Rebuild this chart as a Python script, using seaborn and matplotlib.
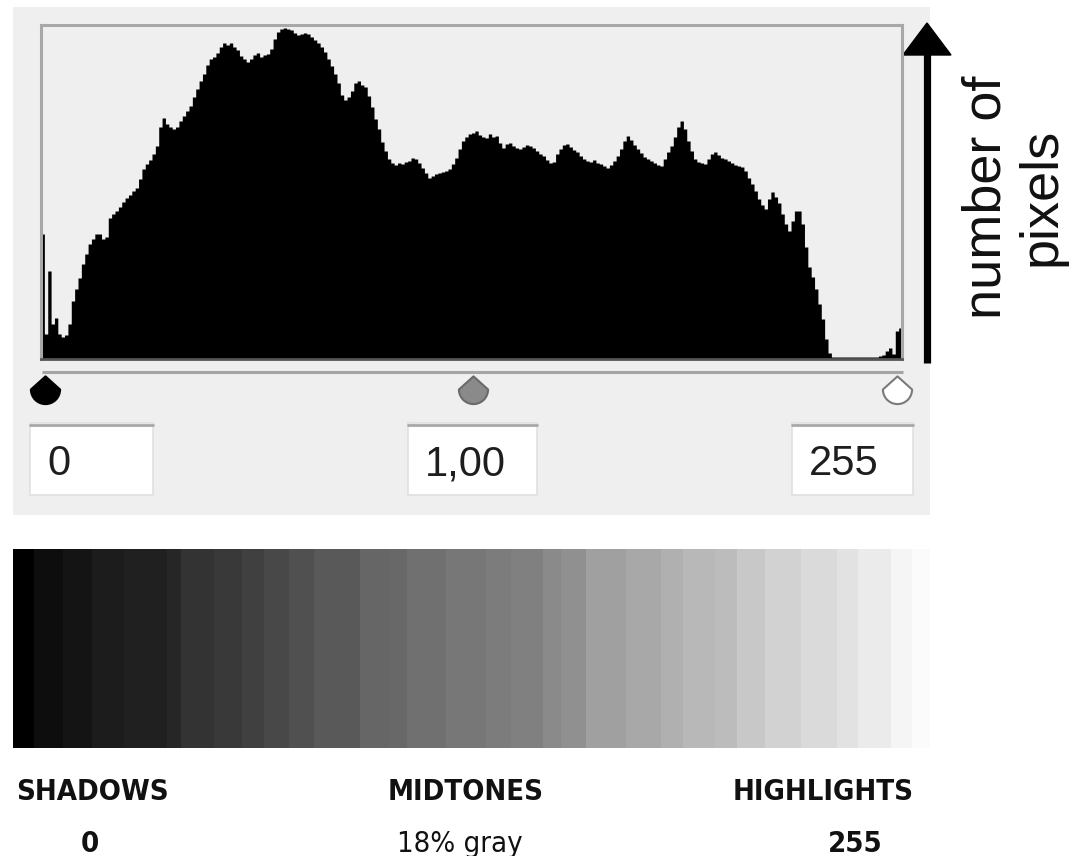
import numpy as np
import matplotlib
matplotlib.use("Agg")
import matplotlib.pyplot as plt
from matplotlib.patches import Rectangle, Polygon
from matplotlib.path import Path
from matplotlib import font_manager as fm
import seaborn as sns

# --- data ------------------------------------------------------------------
# pixel count per tonal level 0..255 (arbitrary units)
counts = [
    125, 25, 88, 35, 41, 25, 22, 24, 35, 58, 70, 81, 95, 105, 115, 120,
    125, 125, 120, 122, 141, 145, 148, 152, 157, 161, 164, 168, 171, 180, 190, 195,
    199, 205, 213, 232, 241, 235, 232, 230, 232, 238, 243, 248, 253, 262, 270, 278,
    285, 294, 300, 302, 306, 312, 316, 314, 316, 312, 309, 303, 300, 297, 300, 304,
    306, 302, 304, 305, 310, 320, 327, 330, 331, 330, 329, 326, 324, 325, 326, 325,
    322, 319, 316, 312, 307, 300, 293, 285, 276, 264, 259, 262, 268, 276, 278, 274,
    272, 263, 252, 240, 230, 217, 208, 200, 196, 194, 196, 195, 197, 198, 201, 200,
    196, 191, 186, 181, 183, 185, 186, 187, 188, 190, 195, 201, 210, 218, 222, 225,
    226, 228, 224, 222, 221, 225, 222, 223, 216, 211, 215, 216, 213, 211, 210, 212,
    214, 213, 211, 208, 205, 203, 199, 196, 197, 205, 210, 214, 215, 212, 209, 207,
    203, 200, 198, 197, 199, 196, 195, 193, 191, 194, 198, 203, 210, 218, 223, 219,
    214, 210, 206, 202, 200, 198, 196, 194, 193, 200, 207, 213, 222, 232, 238, 230,
    218, 208, 200, 197, 196, 195, 200, 205, 207, 204, 201, 200, 198, 196, 194, 193,
    192, 188, 181, 175, 168, 160, 154, 150, 160, 167, 162, 156, 145, 135, 128, 138,
    148, 148, 135, 112, 92, 82, 70, 55, 40, 20, 6, 2, 2, 2, 2, 2,
    2, 2, 2, 2, 2, 2, 2, 2, 2, 3, 4, 8, 11, 5, 28, 31,
]
levels = list(range(256))

# slider points: black point, midtone, white point
slider_values = [0, 128, 255]
slider_fill = ["black", "#8a8a8a", "white"]
slider_edge = ["black", "#6a6a6a", "#7a7a7a"]
box_texts = ["0", "1,00", "255"]

# stepped tonal ramp under the histogram: band start (tone) and gray value
band_starts = [0, 6, 14, 22, 31, 43, 47, 56, 64, 70, 77, 84, 97, 105, 110, 121,
               132, 139, 148, 153, 160, 171, 181, 187, 196, 202, 210, 220, 230, 236, 245, 251]
band_grays = [0, 13, 20, 28, 32, 38, 51, 57, 64, 72, 80, 89, 102, 104, 112, 119,
              124, 128, 138, 144, 160, 168, 176, 184, 188, 200, 210, 218, 226, 235, 245, 251]

zone_names = ["SHADOWS", "MIDTONES", "HIGHLIGHTS"]
zone_values = ["0", "18% gray", "255"]
axis_label = "number of\npixels"

# --- layout helpers -------------------------------------------------------
W, H = 1075, 856


def rect(x0, y0, x1, y1):
    return [x0 / W, 1 - y1 / H, (x1 - x0) / W, (y1 - y0) / H]


def pick_font(names):
    for n in names:
        try:
            fm.findfont(fm.FontProperties(family=n), fallback_to_default=False)
            return n
        except ValueError:
            pass
    return "DejaVu Sans"


sns.set_style("white")
narrow = pick_font(["Liberation Sans Narrow", "DejaVu Sans"])
plain = pick_font(["Liberation Sans", "DejaVu Sans"])

fig = plt.figure(figsize=(W / 100, H / 100), dpi=100)
fig.patch.set_facecolor("white")

# background layer in pixel coordinates
bg = fig.add_axes([0, 0, 1, 1], zorder=0)
bg.set_xlim(0, W)
bg.set_ylim(H, 0)
bg.axis("off")
bg.add_patch(Rectangle((13, 7), 917, 508, facecolor="#efefef", lw=0))

# input boxes
box_x = [(30, 153), (408, 537), (792, 913)]
for (x0, x1), t in zip(box_x, box_texts):
    bg.add_patch(Rectangle((x0, 423), x1 - x0, 72, facecolor="white", edgecolor="#e0e0e0", lw=1.2))
    bg.plot([x0, x1], [424.5, 424.5], color="#a8a8a8", lw=2)
    bg.text(x0 + 17, 475, t, fontsize=30, family=plain, color="#1e1e1e", ha="left", va="baseline")

# slider track
bg.plot([42, 903], [372, 372], color="#a5a5a5", lw=2.2, solid_capstyle="butt")

# vertical arrow + label
bg.plot([927, 927], [363, 50], color="black", lw=5.2, solid_capstyle="butt")
bg.add_patch(Polygon([(903, 55), (951, 55), (927, 23)], closed=True, color="black"))
bg.text(1014, 197, axis_label, rotation=90, ha="center", va="center", multialignment="center",
        fontsize=39, family=plain, color="#111111", linespacing=1.15)

# histogram
ax = fig.add_axes(rect(41, 25, 902, 359), zorder=2)
sns.histplot(x=levels, weights=counts, bins=256, binrange=(0, 256), element="step",
             fill=True, color="black", alpha=1, linewidth=0, ax=ax)
ax.set_xlim(0, 256)
ax.set_ylim(0, 334)
ax.set_facecolor("#efefef")
ax.set_xticks([])
ax.set_yticks([])
ax.set_xlabel("")
ax.set_ylabel("")
for side in ["top", "left", "right"]:
    ax.spines[side].set_color("#a8a8a8")
    ax.spines[side].set_linewidth(2.2)
ax.spines["bottom"].set_color("#555555")
ax.spines["bottom"].set_linewidth(2)

# slider handles
drop_arc = Path.arc(180, 360)
drop = Path(np.vstack([[0, 0.9], drop_arc.vertices, [0, 0.9]]),
            [Path.MOVETO, Path.LINETO] + list(drop_arc.codes[1:]) + [Path.CLOSEPOLY])
sl = fig.add_axes(rect(45, 369, 897, 409), zorder=3)
sl.set_xlim(0, 255)
sl.set_ylim(0, 1)
sl.axis("off")
for v, fc, ec in zip(slider_values, slider_fill, slider_edge):
    sl.plot([v], [0.5], marker=drop, ms=21, mfc=fc, mec=ec, mew=1.5, clip_on=False)

# tonal ramp
gr = fig.add_axes(rect(13, 549, 930, 748), zorder=1)
gr.pcolormesh(band_starts + [256], [0, 1], np.array(band_grays)[None, :],
              cmap="gray", vmin=0, vmax=255, shading="flat")
gr.set_xlim(0, 256)
gr.set_ylim(0, 1)
gr.axis("off")

# zone labels
zone_x = [92, 466, 823]
value_x = [90, 460, 855]
for x, name in zip(zone_x, zone_names):
    bg.text(x, 800, name, fontsize=21, family=[narrow, "DejaVu Sans"], fontstretch="condensed",
            fontweight="bold", color="#111111", ha="center", va="baseline")
for x, val in zip(value_x, zone_values):
    bg.text(x, 852, val, fontsize=21, family=[narrow, "DejaVu Sans"], fontstretch="condensed",
            fontweight="normal" if "gray" in val else "bold", color="#111111",
            ha="center", va="baseline")

fig.savefig("out.png", dpi=100)
